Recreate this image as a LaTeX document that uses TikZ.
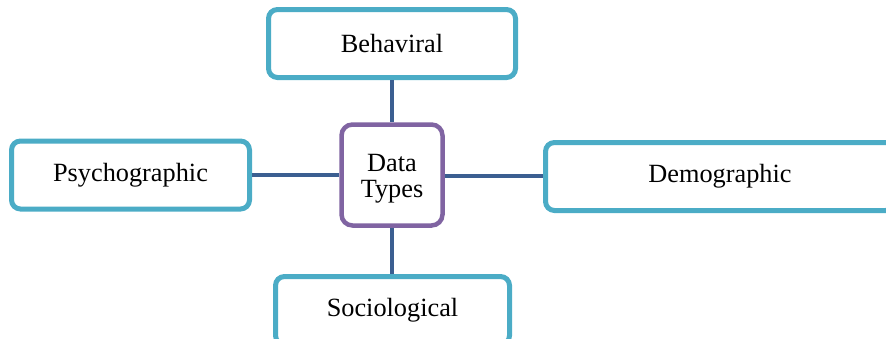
\documentclass[tikz,border=0pt]{standalone}
\usepackage{fontspec}
\setmainfont{Liberation Serif}
\definecolor{boxteal}{RGB}{75,172,198}
\definecolor{hubpurple}{RGB}{128,100,162}
\definecolor{linkblue}{RGB}{59,95,145}
\begin{document}
\begin{tikzpicture}[x=1pt,y=-1pt,
  catbox/.style={draw=boxteal, line width=5pt, fill=white, rounded corners=9pt,
    inner sep=0pt, font=\fontsize{26.3}{27}\selectfont},
  hubbox/.style={draw=hubpurple, line width=4.5pt, fill=white, rounded corners=11pt,
    inner sep=0pt, minimum width=101pt, minimum height=101pt},
  hubtext/.style={inner sep=0pt, align=center, font=\fontsize{26.3}{26}\selectfont},
  link/.style={draw=linkblue, line width=4pt}]
  \useasboundingbox (0,0) rectangle (886,338);
  \clip (0,0) rectangle (886,338);
  % hub and the four categories
  \node[hubbox] (hub) at (392,175) {};
  \node[hubtext] (hublabel) at ([yshift=-3.5pt]hub.center) {Data\\Types};
  \node[catbox, minimum width=247pt, minimum height=68pt] (beh) at (392,43.5) {Behaviral};
  \node[catbox, minimum width=238pt, minimum height=68pt] (psy) at (130.5,175) {Psychographic};
  \node[catbox, minimum width=349pt, minimum height=68pt] (dem) at (720,176.5) {Demographic};
  \node[catbox, minimum width=234pt, minimum height=68pt] (soc) at (392.5,310.5) {Sociological};
  % connectors
  \draw[link] (beh.south) -- (beh.south |- hub.north);
  \draw[link] (hub.south) -- (hub.south |- soc.north);
  \draw[link] (psy.east) -- (psy.east -| hub.west);
  \draw[link] (hub.east |- 0,176) -- (dem.west |- 0,176);
\end{tikzpicture}
\end{document}
